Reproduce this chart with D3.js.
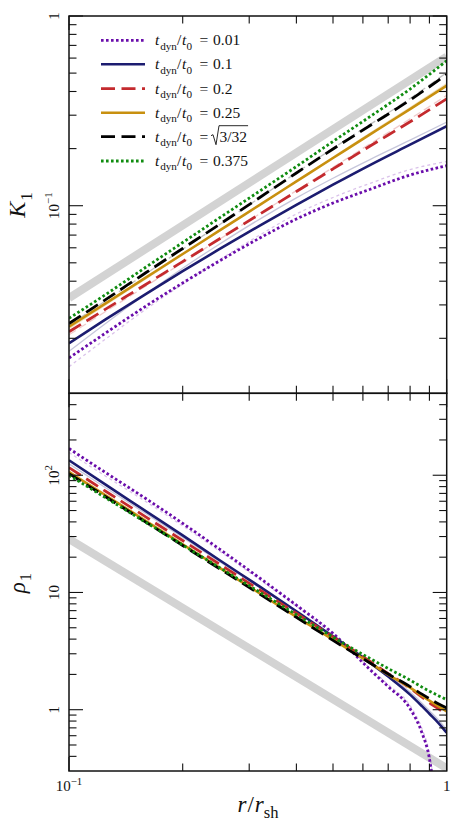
<!DOCTYPE html>
<html><head><meta charset="utf-8">
<script src="https://cdn.jsdelivr.net/npm/d3@7"></script>
<style>
body{margin:0;background:#fff}
svg{display:block}
</style>
</head><body>
<svg id="c" width="461" height="821"></svg>
<script>
// ---------------- DATA ----------------
const legendValues = ["0.01", "0.1", "0.2", "0.25", "sqrt(3/32)", "0.375"];

const rTop = [0.1, 0.125, 0.16, 0.2, 0.25, 0.32, 0.4, 0.5, 0.63, 0.8, 1.0];
const rBot = [0.1, 0.125, 0.16, 0.2, 0.25, 0.32, 0.4, 0.5, 0.63, 0.7, 0.8, 0.86, 0.9, 0.95, 1.0];
const rRef = [0.1, 1.0];

const kRef = [0.0326, 0.610];
const rhoRef = [28.6, 0.3165];

const K_001  = [0.01575, 0.02132, 0.0296, 0.03913, 0.05111, 0.06755, 0.0851, 0.1033, 0.1225, 0.1451, 0.1625];
const K_01   = [0.01882, 0.02515, 0.03432, 0.04515, 0.05898, 0.07856, 0.1011, 0.129, 0.1647, 0.2097, 0.2628];
const K_02   = [0.02167, 0.0285, 0.03857, 0.05075, 0.06675, 0.09031, 0.1188, 0.1563, 0.2077, 0.2769, 0.366];
const K_025  = [0.02302, 0.03059, 0.04188, 0.05565, 0.07383, 0.1011, 0.1343, 0.1784, 0.2393, 0.3227, 0.430];
const K_sq   = [0.02393, 0.0320, 0.04445, 0.0595, 0.0796, 0.1105, 0.1487, 0.199, 0.2663, 0.3607, 0.4916];
const K_0375 = [0.02549, 0.03402, 0.04751, 0.06397, 0.08613, 0.1195, 0.1609, 0.2181, 0.2971, 0.4122, 0.5811];

const K_001_faint = [0.01417, 0.01983, 0.02854, 0.03866, 0.05173, 0.07007, 0.09041, 0.1105, 0.1317, 0.1551, 0.171];
const K_01_faint  = [0.01708, 0.02396, 0.03432, 0.04684, 0.06266, 0.08501, 0.110, 0.1396, 0.1761, 0.2215, 0.2759];
const K_02_faint  = [0.02089, 0.02769, 0.03777, 0.05013, 0.06642, 0.09064, 0.1201, 0.1592, 0.2132, 0.2868, 0.3819];
const K_025_faint = [0.02247, 0.0300, 0.04128, 0.05511, 0.07347, 0.1011, 0.1349, 0.1802, 0.2428, 0.3289, 0.4408];
const K_sq_faint  = [0.0235, 0.03153, 0.04392, 0.05898, 0.07923, 0.1103, 0.1493, 0.2007, 0.2699, 0.3674, 0.5037];

const rho_001  = [169.0, 105.3, 63.02, 38.86, 23.5, 13.26, 7.783, 4.479, 2.159, 1.574, 1.02, 0.6352, 0.3834, 0.0937, null];
const rho_01   = [134.2, 83.07, 49.25, 30.67, 18.91, 11.21, 6.916, 4.222, 2.479, 1.918, 1.345, 1.072, 0.9241, 0.7738, 0.6352];
const rho_02   = [116.2, 73.07, 43.92, 27.73, 17.48, 10.50, 6.646, 4.181, 2.553, 2.034, 1.528, 1.28, 1.148, 1.02, 0.9062];
const rho_025  = [106.7, 67.53, 40.68, 25.73, 16.28, 9.804, 6.203, 3.956, 2.479, 1.995, 1.543, 1.318, 1.194, 1.072, 0.9669];
const rho_sq   = [103.2, 65.55, 39.64, 25.18, 15.99, 9.669, 6.142, 3.902, 2.479, 2.015, 1.574, 1.358, 1.243, 1.126, 1.034];
const rho_0375 = [99.8, 64.27, 39.48, 25.43, 16.34, 10.06, 6.465, 4.164, 2.708, 2.245, 1.789, 1.559, 1.44, 1.318, 1.218];

const rho_001_faint = [156.2, 98.24, 59.39, 36.99, 22.59, 12.87, 7.63, 4.454, 2.223, 1.637, 1.082, 0.6875, 0.4231, 0.1055, null];
const rho_01_faint  = [125.2, 78.29, 46.88, 29.49, 18.36, 10.99, 6.847, 4.222, 2.553, 1.995, 1.413, 1.137, 0.9804, 0.821, 0.674];

const xTickLabels = [{v: 0.1, t: "10", s: "−1"}, {v: 1, t: "1", s: ""}];
const kTickLabels = [{v: 1, t: "1", s: ""}, {v: 0.1, t: "10", s: "−1"}];
const rhoTickLabels = [{v: 100, t: "10", s: "2"}, {v: 10, t: "10", s: ""}, {v: 1, t: "1", s: ""}];

// ---------------- STYLES ----------------
const FONT = "'Liberation Serif', 'Times New Roman', Times, 'DejaVu Serif', serif";
const styles = [
  {color: "#6a0dab", dash: "2.6,2.4", w: 2.8},
  {color: "#1c1c70", dash: null, w: 2.6},
  {color: "#c42a2e", dash: "14,6.5", w: 2.8},
  {color: "#c8900f", dash: null, w: 2.6},
  {color: "#000000", dash: "14,6.5", w: 2.8},
  {color: "#108c10", dash: "2.6,2.4", w: 2.8}
];
const kMain = [K_001, K_01, K_02, K_025, K_sq, K_0375];
const rhoMain = [rho_001, rho_01, rho_02, rho_025, rho_sq, rho_0375];
const kFaint = [[K_001_faint, 0, "3,3"], [K_01_faint, 1, null], [K_02_faint, 2, "8,4"], [K_025_faint, 3, null], [K_sq_faint, 4, "8,4"]];
const rhoFaint = [[rho_001_faint, 0, "3,3"], [rho_01_faint, 1, null]];

// ---------------- LAYOUT ----------------
const L = 69, R = 446.7, T1 = 16, B1 = 393.3, T2 = 393.3, B2 = 771;
const svg = d3.select("#c").attr("font-family", FONT);
const x = d3.scaleLog().domain([0.1, 1]).range([L, R]);
const yK = d3.scaleLog().domain([0.01026, 1]).range([B1, T1]);
const yR = d3.scaleLog().domain([0.3, 500]).range([B2, T2]);

const defs = svg.append("defs");
defs.append("clipPath").attr("id", "clipTop").append("rect").attr("x", L).attr("y", T1).attr("width", R - L).attr("height", B1 - T1);
defs.append("clipPath").attr("id", "clipBot").append("rect").attr("x", L).attr("y", T2).attr("width", R - L).attr("height", B2 - T2);

function zip(rs, vs) { return rs.map((r, i) => ({r, v: vs[i]})); }
function lineGen(ys) {
  return d3.line().defined(d => d.v != null && d.v > 0).x(d => x(d.r)).y(d => ys(d.v)).curve(d3.curveMonotoneX);
}

function drawPanel(clip, ys, ref, mains, faints, rs) {
  const g = svg.append("g").attr("clip-path", `url(#${clip})`);
  g.append("path").attr("d", lineGen(ys)(zip(rRef, ref)))
    .attr("fill", "none").attr("stroke", "#d3d3d3").attr("stroke-width", 8);
  faints.forEach(([vals, si, dash]) => {
    g.append("path").attr("d", lineGen(ys)(zip(rs, vals)))
      .attr("fill", "none").attr("stroke", styles[si].color).attr("stroke-opacity", 0.25)
      .attr("stroke-width", 1.3).attr("stroke-dasharray", dash);
  });
  mains.forEach((vals, i) => {
    const s = styles[i];
    g.append("path").attr("d", lineGen(ys)(zip(rs, vals)))
      .attr("fill", "none").attr("stroke", s.color).attr("stroke-width", s.w)
      .attr("stroke-dasharray", s.dash);
  });
}
drawPanel("clipTop", yK, kRef, kMain, kFaint, rTop);
drawPanel("clipBot", yR, rhoRef, rhoMain, rhoFaint, rBot);

// ---------------- AXES / TICKS ----------------
const axg = svg.append("g").attr("stroke", "#111").attr("stroke-width", 1.1);
const MAJ = 14, MIN = 7.5;
function minors(lo, hi) {
  const out = [];
  for (let e = -3; e <= 3; e++) for (let m = 2; m <= 9; m++) {
    const v = m * Math.pow(10, e);
    if (v > lo * 1.0001 && v < hi * 0.9999) out.push(v);
  }
  return out;
}
function majors(lo, hi) {
  const out = [];
  for (let e = -3; e <= 3; e++) { const v = Math.pow(10, e); if (v >= lo * 0.9999 && v <= hi * 1.0001) out.push(v); }
  return out;
}
function panelTicks(ys, top, bot) {
  const [lo, hi] = ys.domain();
  [[majors(lo, hi), MAJ], [minors(lo, hi), MIN]].forEach(([vals, len]) => {
    vals.forEach(v => {
      const yy = ys(v);
      axg.append("line").attr("x1", L).attr("x2", L + len).attr("y1", yy).attr("y2", yy);
      axg.append("line").attr("x1", R).attr("x2", R - len).attr("y1", yy).attr("y2", yy);
    });
  });
  [[majors(0.1, 1), MAJ], [minors(0.1, 1), MIN]].forEach(([vals, len]) => {
    vals.forEach(v => {
      const xx = x(v);
      axg.append("line").attr("x1", xx).attr("x2", xx).attr("y1", top).attr("y2", top + len);
      axg.append("line").attr("x1", xx).attr("x2", xx).attr("y1", bot).attr("y2", bot - len);
    });
  });
  svg.append("rect").attr("x", L).attr("y", top).attr("width", R - L).attr("height", bot - top)
    .attr("fill", "none").attr("stroke", "#111").attr("stroke-width", 1.5);
}
panelTicks(yK, T1, B1);
panelTicks(yR, T2, B2);

// ---------------- TEXT ----------------
function txt() { return svg.append("text").attr("font-family", FONT).attr("fill", "#111"); }
function math(sel, parts, size, x0) {
  let cur = 0;
  parts.forEach(p => {
    const target = p.sub ? size * 0.28 : p.sup ? -size * 0.42 : 0;
    const ts = sel.append("tspan").text(p.t).attr("dy", target - cur)
      .attr("font-size", (p.sub || p.sup) ? size * 0.72 : size);
    if (p.x != null) ts.attr("x", x0 + p.x);
    if (p.dx) ts.attr("dx", p.dx);
    if (p.i) ts.attr("font-style", "italic");
    cur = target;
  });
  return sel;
}

const TS = 15;
function yLabel(ys, d) {
  const t = txt().attr("transform", `translate(58.5,${ys(d.v)}) rotate(-90)`)
    .attr("text-anchor", "middle").attr("font-size", TS);
  const parts = [{t: d.t}];
  if (d.s) parts.push({t: d.s, sup: 1});
  math(t, parts, TS);
}
kTickLabels.forEach(d => yLabel(yK, d));
rhoTickLabels.forEach(d => yLabel(yR, d));
xTickLabels.forEach(d => {
  const t = txt().attr("x", x(d.v)).attr("y", 791).attr("text-anchor", "middle").attr("font-size", TS);
  const parts = [{t: d.t}];
  if (d.s) parts.push({t: d.s, sup: 1});
  math(t, parts, TS);
});

// axis titles
math(txt().attr("transform", "translate(25,205) rotate(-90)").attr("text-anchor", "middle").attr("font-size", 24),
  [{t: "K", i: 1}, {t: "1", sub: 1, dx: 1}], 24);
math(txt().attr("transform", "translate(25,583) rotate(-90)").attr("text-anchor", "middle").attr("font-size", 23),
  [{t: "ρ", i: 1}, {t: "1", sub: 1, dx: 1}], 23);
math(txt().attr("x", 258).attr("y", 812).attr("text-anchor", "middle").attr("font-size", 23),
  [{t: "r", i: 1}, {t: "/", dx: 1}, {t: "r", i: 1, dx: 1}, {t: "sh", sub: 1}], 23);

// ---------------- LEGEND ----------------
const LS = 15.5;
const LX = 155;
const rowY = [40.3, 64.3, 88.7, 112.7, 136.7, 161];
legendValues.forEach((val, i) => {
  const s = styles[i];
  const cy = rowY[i];
  const base = cy + 5;
  svg.append("line").attr("x1", 101).attr("x2", 145).attr("y1", cy).attr("y2", cy)
    .attr("stroke", s.color).attr("stroke-width", s.w).attr("stroke-dasharray", s.dash);
  const t = txt().attr("x", LX).attr("y", base).attr("font-size", LS);
  const parts = [{t: "t", i: 1, x: 0}, {t: "dyn", sub: 1, x: 5.2}, {t: "/", x: 22}, {t: "t", i: 1, x: 27}, {t: "0", sub: 1, x: 31.5}, {t: "=", x: 44.5}];
  if (val.startsWith("sqrt")) {
    math(t, parts, LS, LX);
    const x0 = LX + 56;
    const t2 = txt().attr("x", x0 + 8.5).attr("y", base).attr("font-size", LS).text("3/32");
    const w2 = t2.node().getComputedTextLength();
    svg.append("path")
      .attr("d", `M${x0},${base - 6} L${x0 + 2},${base - 7} L${x0 + 5},${base + 3} L${x0 + 8},${base - 16} L${x0 + 8.5 + w2 + 1},${base - 16}`)
      .attr("fill", "none").attr("stroke", "#111").attr("stroke-width", 0.9);
  } else {
    parts.push({t: val, x: 58});
    math(t, parts, LS, LX);
  }
});
</script>
</body></html>
